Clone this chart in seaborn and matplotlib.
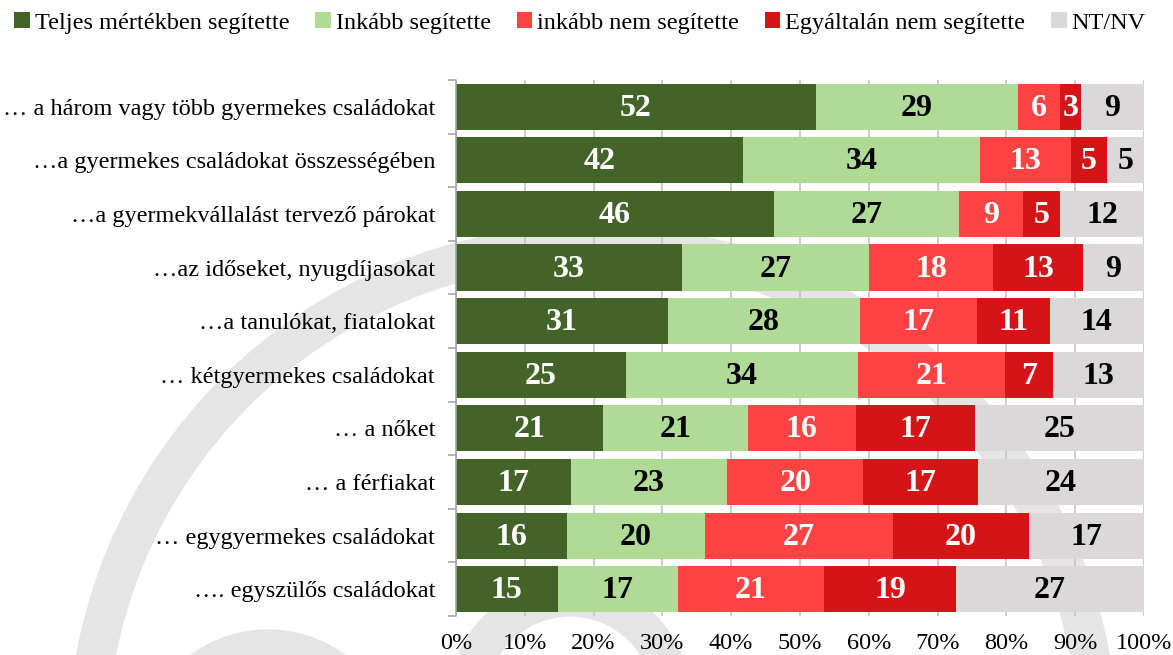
import pandas as pd
import seaborn as sns
import matplotlib.pyplot as plt
from matplotlib.patches import Patch, Wedge
from matplotlib.ticker import FixedLocator, PercentFormatter

categories = ['… a három vagy több gyermekes családokat',
              '…a gyermekes családokat összességében',
              '…a gyermekvállalást tervező párokat',
              '…az időseket, nyugdíjasokat',
              '…a tanulókat, fiatalokat',
              '… kétgyermekes családokat',
              '… a nőket',
              '… a férfiakat',
              '… egygyermekes családokat',
              '…. egyszülős családokat']
teljes = [52.3, 41.7, 46.2, 32.8, 30.8, 24.7, 21.4, 16.7, 16.1, 14.8]
inkabb = [29.4, 34.5, 26.9, 27.2, 27.9, 33.7, 21.0, 22.7, 20.1, 17.4]
inkabb_nem = [6.1, 13.2, 9.3, 18.1, 17.0, 21.4, 15.7, 19.8, 27.3, 21.3]
egyaltalan = [3.0, 5.2, 5.4, 13.0, 10.6, 7.0, 17.3, 16.7, 19.8, 19.2]
ntnv = [9.2, 5.4, 12.2, 8.9, 13.7, 13.2, 24.6, 24.1, 16.7, 27.3]

series = ['Teljes mértékben segítette', 'Inkább segítette',
          'inkább nem segítette', 'Egyáltalán nem segítette', 'NT/NV']
colors = ['#436329', '#b0db97', '#ff4343', '#d41416', '#dad8d8']
text_colors = ['white', 'black', 'white', 'white', 'black']

df = pd.DataFrame({'kategoria': categories, series[0]: teljes, series[1]: inkabb,
                   series[2]: inkabb_nem, series[3]: egyaltalan, series[4]: ntnv})
cum = df[series].cumsum(axis=1)

plt.rcParams['font.family'] = ['Liberation Serif', 'DejaVu Serif']

fig = plt.figure(figsize=(11.73, 6.55), dpi=100)

# faint logo watermark behind everything
bg = fig.add_axes([0, 0, 1, 1], zorder=-1)
bg.set_xlim(0, 1173)
bg.set_ylim(655, 0)
bg.axis('off')
wm = '#e5e5e5'
bg.add_patch(Wedge((593, 750), 525, 0, 360, width=38, color=wm))
bg.add_patch(Wedge((268, 760), 130, 0, 360, width=40, color=wm))
bg.add_patch(Wedge((570, 700), 120, 0, 360, width=36, color=wm))

ax = fig.add_axes([0.3887, 0.0595, 0.5866, 0.8185])
ax.set_facecolor('none')

# stacked bars: draw cumulative totals from the outermost layer inwards
for s, c in reversed(list(zip(series, colors))):
    sns.barplot(x=cum[s], y=df['kategoria'], color=c, saturation=1,
                width=0.86, linewidth=0, orient='h', ax=ax, zorder=2)

for i in range(len(df)):
    for s, tc in zip(series, text_colors):
        v = df.loc[i, s]
        ax.text(cum.loc[i, s] - v / 2, i + 0.03, f'{v:.0f}', ha='center', va='center',
                color=tc, fontsize=23, fontweight='bold', zorder=3)

ax.set_xlim(0, 100)
ax.set_ylim(len(df) - 0.5, -0.5)
ax.xaxis.set_major_locator(FixedLocator(range(0, 101, 10)))
ax.xaxis.set_major_formatter(PercentFormatter(decimals=0))
ax.grid(axis='x', color='#c4c4c4', linewidth=1.2, zorder=0)
ax.set_axisbelow(True)
ax.set_xlabel('')
ax.set_ylabel('')

for side in ['top', 'right', 'bottom']:
    ax.spines[side].set_visible(False)
ax.spines['left'].set_color('#a6a6a6')
ax.spines['left'].set_linewidth(1.2)

ax.yaxis.set_minor_locator(FixedLocator([k - 0.5 for k in range(len(df) + 1)]))
ax.tick_params(axis='y', which='major', length=0, pad=15, labelsize=17.5)
ax.tick_params(axis='y', which='minor', length=6, color='#a6a6a6', width=1.2)
ax.tick_params(axis='x', length=0, pad=12, labelsize=17.5)

handles = [Patch(facecolor=c, edgecolor='none') for c in colors]
fig.legend(handles, series, loc='upper left', bbox_to_anchor=(0.002, 1.0),
           ncol=5, frameon=False, fontsize=17.5, handlelength=0.65,
           handleheight=0.65, handletextpad=0.2, columnspacing=1.05,
           borderaxespad=0.2, borderpad=0.3)

plt.savefig('out.png', dpi=100)
